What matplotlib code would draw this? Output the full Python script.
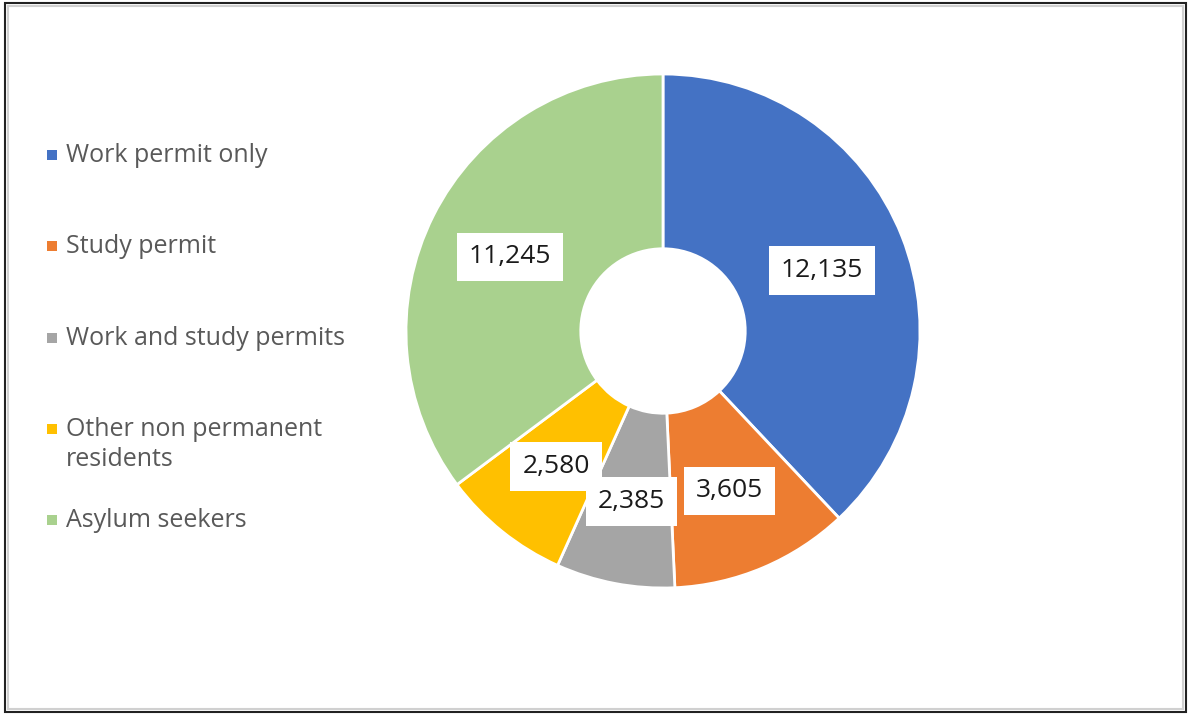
import matplotlib.pyplot as plt
from matplotlib.patches import Rectangle
import numpy as np

labels = ['Work permit only', 'Study permit', 'Work and study permits',
          'Other non permanent\nresidents', 'Asylum seekers']
values = [12135, 3605, 2385, 2580, 11245]
colors = ['#4472C4', '#ED7D31', '#A5A5A5', '#FFC000', '#A9D18E']

plt.rcParams['font.family'] = ['Open Sans', 'DejaVu Sans']

W, H = 1189, 715
fig = plt.figure(figsize=(W / 100, H / 100), dpi=100)

# donut axes: centre (663, 331) px, radius 257 px
cx, cy, r = 663, 331, 257
ax = fig.add_axes([(cx - r) / W, (H - cy - r) / H, 2 * r / W, 2 * r / H])
wedges, _ = ax.pie(values, colors=colors, startangle=90, counterclock=False,
                   radius=1, wedgeprops=dict(width=0.68, edgecolor='white', linewidth=2))
ax.set_xlim(-1, 1)
ax.set_ylim(-1, 1)
ax.set_aspect('equal')
ax.axis('off')

for w, v in zip(wedges, values):
    ang = np.deg2rad((w.theta1 + w.theta2) / 2)
    rr = 0.665
    ax.text(rr * np.cos(ang), rr * np.sin(ang) - 0.01, f'{v:,}', ha='center', va='center',
            fontsize=19, color='#1a1a1a',
            bbox=dict(boxstyle='square,pad=0.45', facecolor='white', edgecolor='none'))

# legend on the left
for i, (lab, c) in enumerate(zip(labels, colors)):
    yc = 155 + i * 91.3
    fig.add_artist(Rectangle((47 / W, 1 - (yc + 5) / H), 10 / W, 10 / H,
                             transform=fig.transFigure, facecolor=c, edgecolor='none'))
    fig.text(66 / W, 1 - (yc - 12) / H, lab, ha='left', va='top', fontsize=18,
             color='#595959', linespacing=1.25)

# frame
fig.add_artist(Rectangle((5 / W, 3 / H), 1181 / W, 709 / H, transform=fig.transFigure,
                         facecolor='none', edgecolor='#222222', linewidth=1.5))
fig.add_artist(Rectangle((8 / W, 6 / H), 1175 / W, 703 / H, transform=fig.transFigure,
                         facecolor='none', edgecolor='#d0d0d0', linewidth=1.5))

fig.savefig('out.png', dpi=100)
